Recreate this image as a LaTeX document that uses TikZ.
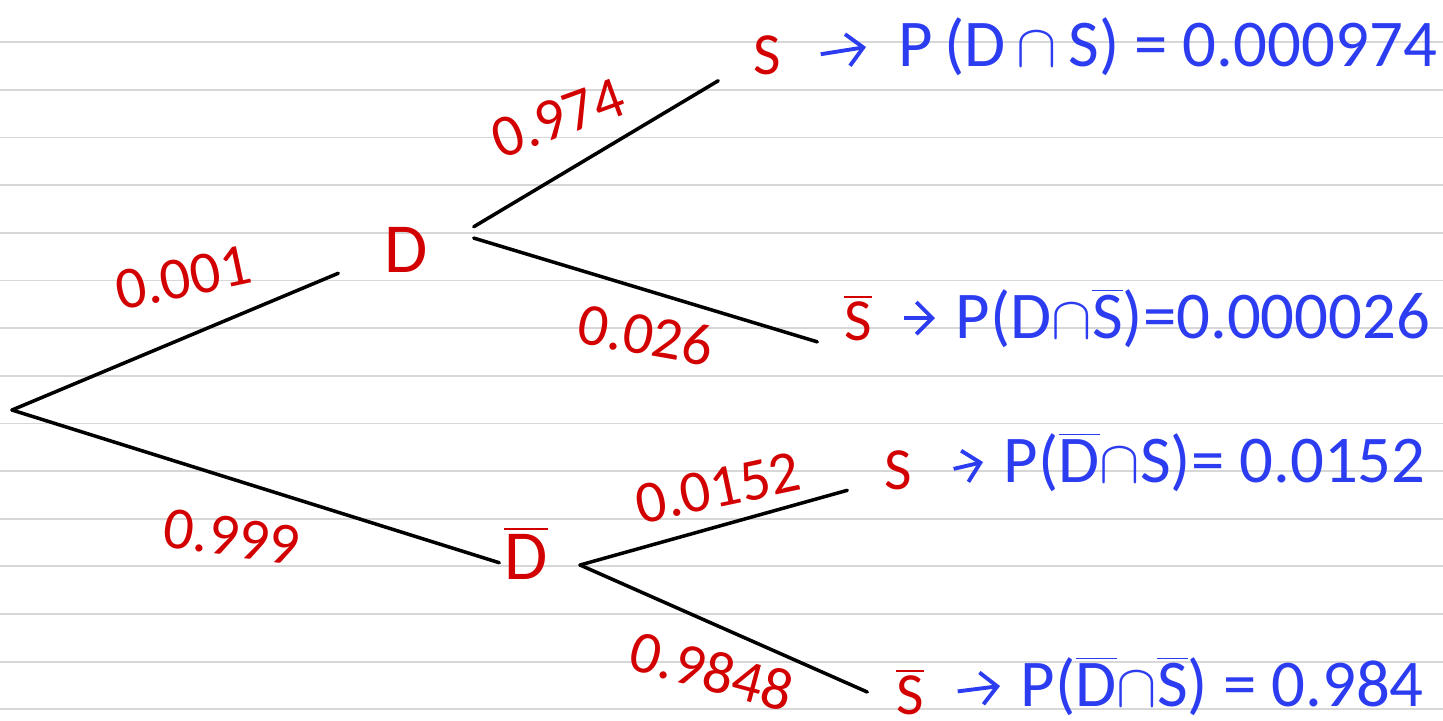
\documentclass[tikz,border=0pt]{standalone}
\usepackage{fontspec}
\setmainfont{Carlito}
\usetikzlibrary{arrows.meta,positioning}
\definecolor{inkred}{HTML}{D20000}
\definecolor{inkblue}{HTML}{2C3CF0}
\definecolor{rulegray}{HTML}{D7D7D7}
\newcommand{\bartxt}[1]{$\overline{\mbox{#1}}$}
\tikzset{
  ruling/.style={draw=rulegray,line width=0.5pt},
  branch/.style={draw=black,line width=1pt,line cap=round},
  event/.style={text=inkred,font=\fontsize{17}{19}\selectfont,inner sep=0pt},
  bigevent/.style={event,font=\fontsize{20}{22}\selectfont},
  prob/.style={text=inkred,font=\fontsize{17}{19}\selectfont,inner sep=0pt},
  joint/.style={text=inkblue,font=\fontsize{19}{21}\selectfont,inner xsep=0.2cm,inner ysep=0pt,anchor=west},
  arrblue/.style={-{Straight Barb[length=1.6mm,width=3.2mm]},draw=inkblue,line width=1.1pt,shorten <=0.05cm}
}

\begin{document}
\begin{tikzpicture}[x=0.01cm,y=-0.01cm]
\useasboundingbox (0,0) rectangle (1443,720);
% lined paper
\foreach \k in {0,...,14}
  \draw[ruling] (0,{42.3+47.64*\k}) -- (1443,{42.3+47.64*\k});

% tree nodes
\coordinate (root) at (12,410);
\node[bigevent,minimum width=1.34cm] (D) at (406,250) {D};
\node[bigevent,minimum width=0.52cm] (Dbar) at (526,553) {\bartxt{D}};
\coordinate (fork) at (580,565);
\node[event,minimum width=0.96cm,minimum height=0.5cm] (S1) at (767,55) {S};
\node[event,minimum width=0.8cm,minimum height=0.36cm] (S2) at (858,318) {\bartxt{S}};
\node[event,minimum width=1.0cm,minimum height=0.36cm] (S3) at (898,470) {S};
\node[event,minimum width=0.84cm] (S4) at (910,692) {\bartxt{S}};

\draw[branch] (root) -- (D.south west);
\draw[branch] (root) -- (Dbar.200);
\draw[branch] (D.north east) -- (S1.south west);
\draw[branch] (D.10) -- (S2.south west);
\draw[branch] (fork) -- (S3.south west);
\draw[branch] (fork) -- (S4.west);

% branch probabilities
\node[prob,rotate=12] (pD) at (183,278) {0.001};
\node[prob,rotate=-8] (pDbar) at (232,537) {0.999};
\node[prob,rotate=20] (pS1) at (558,118) {0.974};
\node[prob,rotate=-10] (pS2) at (646,335) {0.026};
\node[prob,rotate=12] (pS3) at (718,488) {0.0152};
\node[prob,rotate=-15] (pS4) at (712,671) {0.9848};

% joint probabilities
\node[joint,inner xsep=0.32cm] (R1) at (866,47) {P\,(D\,$\cap$\,S) = 0.000974};
\node[joint] (R2) at (935,318) {P(D$\cap$\bartxt{S})=0.000026};
\node[joint] (R3) at (983,462) {P(\bartxt{D}$\cap$S)= 0.0152};
\node[joint] (R4) at (1000,686) {P(\bartxt{D}$\cap$\bartxt{S}) = 0.984};
\draw[arrblue] (S1.east) -- (R1.west);
\draw[arrblue] (S2.east) -- (R2.west);
\draw[arrblue] (S3.east) -- (R3.west);
\draw[arrblue] (S4.east) -- (R4.west);
\end{tikzpicture}
\end{document}
